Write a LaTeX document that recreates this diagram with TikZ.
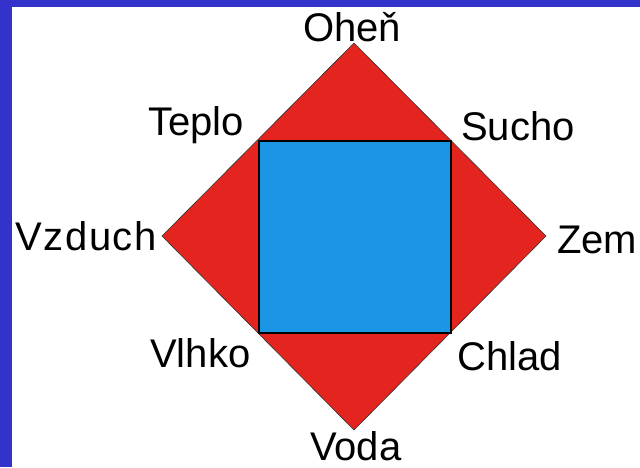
\documentclass[tikz,border=0pt]{standalone}
\usepackage{fontspec}
\setmainfont{Liberation Sans}
\definecolor{frameblue}{RGB}{51,51,204}
\definecolor{elred}{RGB}{228,36,30}
\definecolor{elblue}{RGB}{26,150,228}
\tikzset{
  lbl/.style={inner sep=0pt, font=\fontsize{40}{48}\selectfont, text=black},
  diam/.style={fill=elred, draw=black!80, line width=0.6pt, line join=miter},
  sq/.style={fill=elblue, draw=black, line width=1.4pt}
}
\begin{document}
\begin{tikzpicture}[x=1pt,y=-1pt]
  \useasboundingbox (0,0) rectangle (640,467);
  \fill[frameblue] (0,0) rectangle (640,467);
  \fill[white] (12,7) rectangle (640,467);
  % diamond
  \coordinate (top) at (354,43);
  \coordinate (right) at (546,236);
  \coordinate (bottom) at (354,430);
  \coordinate (left) at (162,236);
  \draw[diam] (top) -- (right) -- (bottom) -- (left) -- cycle;
  % square
  \coordinate (tl) at (259,141);
  \coordinate (br) at (451,333);
  \draw[sq] (tl) rectangle (br);
  % labels
  \node[lbl, anchor=base west] (ohen) at (303,41) {Oheň};
  \node[lbl, anchor=base west] (teplo) at (148,135) {Teplo};
  \node[lbl, anchor=base west] (sucho) at (461,140) {Sucho};
  \node[lbl, anchor=base east] (vzduch) at (157,250) {\addfontfeatures{LetterSpace=4}Vzduch};
  \node[lbl, anchor=base west] (zem) at (557,253) {Zem};
  \node[lbl, anchor=base west] (vlhko) at (150,367) {Vlhko};
  \node[lbl, anchor=base west] (chlad) at (457,370) {Chlad};
  \node[lbl, anchor=base west] (voda) at (310,460) {Voda};
\end{tikzpicture}
\end{document}
